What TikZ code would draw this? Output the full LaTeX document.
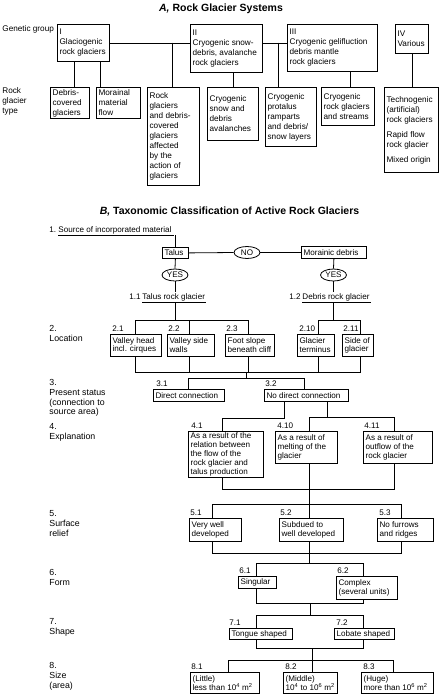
\documentclass[tikz,border=0pt]{standalone}
\usepackage{fontspec}
\setmainfont{Liberation Sans}
\usetikzlibrary{shapes.geometric}
\newcommand\mybox[7][fb]{%
  \node[frame, minimum width={#5-#3}, minimum height={#6-#4}] (#2) at (#3,#4) {};
  \node[txt,#1] (#2t) at ([xshift=2.2pt]#2.west) {#7};}
\begin{document}
\begin{tikzpicture}[x=1pt,y=-1pt,line width=0.8pt,
  fa/.style={font=\fontsize{8.2}{10}\selectfont},
  fb/.style={font=\fontsize{8.1}{8.9}\selectfont},
  fl/.style={font=\fontsize{8.8}{9.8}\selectfont},
  frame/.style={draw, line width=0.8pt, anchor=north west, inner sep=0pt},
  txt/.style={anchor=west, align=left, inner sep=0pt},
  lab/.style={anchor=south west, inner sep=0pt, fb},
  side/.style={anchor=north west, align=left, inner sep=0pt, fl},
  bw/.style={anchor=base west, inner sep=0pt, fb},
  oval/.style={ellipse, draw, line width=0.8pt, minimum width=26pt, minimum height=12pt, inner sep=0pt, fb},
  ttl/.style={inner sep=0pt, font=\fontsize{10.5}{12}\selectfont\bfseries}]
\useasboundingbox (0,0) rectangle (442,694);
% ---------------- Part A ----------------
\node[ttl] (ta) at (221,9) {\textit{A,} Rock Glacier Systems};
\node[side,fa] (gg) at (2,25) {Genetic group};
\node[side,fa] (rgt) at (2,87) {Rock\\glacier\\type};
\mybox[fa]{gI}{57}{24}{109}{61}{I\\Glaciogenic\\rock glaciers}
\mybox[fa]{gII}{190}{24}{262}{72}{II\\Cryogenic snow-\\debris, avalanche\\rock glaciers}
\mybox[fa]{gIII}{287}{24}{377}{71}{III\\Cryogenic gelifluction\\debris mantle\\rock glaciers}
\mybox[fa]{gIV}{395}{24}{428}{53}{IV\\Various}
\mybox[fa]{t1}{50}{87}{89}{118}{Debris-\\covered\\glaciers}
\mybox[fa]{t2}{96}{87}{140}{118}{Morainal\\material\\flow}
\mybox[fa]{t3}{147}{87}{199}{185}{Rock\\glaciers\\and debris-\\covered\\glaciers\\affected\\by the\\action of\\glaciers}
\mybox[fa]{t4}{207}{87}{258}{140}{Cryogenic\\snow and\\debris\\avalanches}
\mybox[fa]{t5}{265}{87}{316}{146}{Cryogenic\\protalus\\ramparts\\and debris/\\snow layers}
\mybox[fa]{t6}{321}{87}{374}{125}{Cryogenic\\rock glaciers\\and streams}
\mybox[fa]{t7}{384}{87}{438}{172}{Technogenic\\(artificial)\\rock glaciers\\[5pt]Rapid flow\\rock glacier\\[5pt]Mixed origin}
\draw (gI.east) -- (gII.west |- gI.east);
\draw (gII.east |- gI.east) -- (gIII.west |- gI.east);
\coordinate (ja1) at (172,42.5);
\coordinate (ja2) at (278,42.5);
\draw (ja1) -- (ja1 |- t3.north);
\draw (ja2) -- (ja2 |- t5.north);
\draw (gI.south -| 74,0) -- (t1.north -| 74,0);
\draw (gI.south -| 100,0) -- (t2.north -| 100,0);
\draw (gII.south -| 233,0) -- (t4.north -| 233,0);
\draw (gIII.south -| 350,0) -- (t6.north -| 350,0);
\draw (gIV.south -| 412,0) -- (t7.north -| 412,0);
% ---------------- Part B ----------------
\node[ttl] (tb) at (229.5,212) {\textit{B,} Taxonomic Classification of Active Rock Glaciers};
\node[bw] (s1n) at (49,232) {1.};
\node[bw] (s1) at (58,232) {Source of incorporated material};
\coordinate (u1a) at ([yshift=-3pt]s1.base west);
\coordinate (u1b) at ([yshift=-3pt,xshift=2pt]s1.base east);
\draw (u1a) -- (u1b);
\mybox{talus}{162}{247}{188}{258}{Talus}
\mybox{morn}{301}{246}{366}{258}{Morainic debris}
\node[oval] (no) at (247,252.5) {NO};
\node[oval] (yes1) at (175,275) {YES};
\node[oval] (yes2) at (333.5,275) {YES};
\draw (u1a -| talus.north) -- (talus.north);
\draw (talus.east) -- (no.west);
\draw (no.east) -- (morn.west |- no.east);
\draw (talus.south) -- (yes1.north);
\draw (morn.south) -- (yes2.north);
\node[bw] (n11) at (129,299) {1.1};
\node[bw] (s11) at (142,299) {Talus rock glacier};
\coordinate (u11a) at ([yshift=-3pt]s11.base west);
\coordinate (u11b) at ([yshift=-3pt,xshift=1pt]s11.base east);
\draw (u11a) -- (u11b);
\node[bw] (n12) at (289,299) {1.2};
\node[bw] (s12) at (302,299) {Debris rock glacier};
\coordinate (u12a) at ([yshift=-3pt]s12.base west);
\coordinate (u12b) at ([yshift=-3pt,xshift=1pt]s12.base east);
\draw (u12a) -- (u12b);
\draw (yes1.south) -- ([yshift=1pt]yes1.south |- s11.north);
\draw (yes2.south) -- ([yshift=1pt]yes2.south |- s12.north);
% level 2
\node[side] (l2) at (49,325) {2.\\Location};
\mybox{b21}{110}{334}{161}{356}{Valley head\\incl. cirques}
\mybox{b22}{167}{334}{214}{356}{Valley side\\walls}
\mybox{b23}{225}{334}{274}{356}{Foot slope\\beneath cliff}
\mybox{b210}{297}{334}{334}{356}{Glacier\\terminus}
\mybox{b211}{342}{334}{373}{356}{Side of\\glacier}
\node[lab] (n21) at (112,332) {2.1};
\node[lab] (n22) at (168,332) {2.2};
\node[lab] (n23) at (226,332) {2.3};
\node[lab] (n210) at (299,332) {2.10};
\node[lab] (n211) at (343,332) {2.11};
\coordinate (j2m) at (175,320);
\coordinate (j2l) at (135,320);
\coordinate (j2c) at (189,320);
\coordinate (j2r) at (248,320);
\draw (u11a -| j2m) -- (j2m);
\draw (j2l |- b21.north) -- (j2l) -- (j2r) -- (j2r |- b23.north);
\draw (j2c) -- (j2c |- b22.north);
\coordinate (k2m) at (333.5,320);
\coordinate (k2l) at (318,320);
\coordinate (k2r) at (360,320);
\draw (u12a -| k2m) -- (k2m);
\draw (k2l |- b210.north) -- (k2l) -- (k2r) -- (k2r |- b211.north);
% level 3
\node[side] (l3) at (49,379) {3.\\Present status\\(connection to\\source area)};
\mybox{b31}{153}{389}{224}{401}{Direct connection}
\mybox{b32}{264}{389}{348}{401}{No direct connection}
\node[lab] (n31) at (156,387) {3.1};
\node[lab] (n32) at (265,387) {3.2};
\coordinate (j3l) at (135,372);
\coordinate (j3r) at (360,372);
\draw (j3l |- b21.south) -- (j3l) -- (j3r) -- (j3r |- b211.south);
\coordinate (j3a) at (189,372);
\coordinate (j3b) at (248,372);
\coordinate (j3c) at (318,372);
\draw (j3a |- b22.south) -- (j3a);
\draw (j3b |- b23.south) -- (j3b);
\draw (j3c |- b210.south) -- (j3c);
\coordinate (j3m) at (246,378);
\coordinate (j3p) at (188,378);
\coordinate (j3q) at (304,378);
\draw (j3m |- j3l) -- (j3m);
\draw (j3p |- b31.north) -- (j3p) -- (j3q) -- (j3q |- b32.north);
% level 4
\node[side] (l4) at (49,423) {4.\\Explanation};
\mybox{b41}{188}{431}{263}{477}{As a result of the\\relation between\\the flow of the\\rock glacier and\\talus production}
\mybox{b410}{275}{431}{337}{463}{As a result of\\melting of the\\glacier}
\mybox{b411}{363}{431}{432}{463}{As a result of\\outflow of the\\rock glacier}
\node[lab] (n41) at (191,429) {4.1};
\node[lab] (n410) at (277,429) {4.10};
\node[lab] (n411) at (364,429) {4.11};
\coordinate (j4a) at (284,418);
\coordinate (j4b) at (222,418);
\draw (j4a |- b32.south) -- (j4a) -- (j4b) -- (j4b |- b41.north);
\coordinate (j4c) at (327,417);
\coordinate (j4l) at (309,417);
\coordinate (j4r) at (394,417);
\draw (j4c |- b32.south) -- (j4c);
\draw (j4l |- b410.north) -- (j4l) -- (j4r) -- (j4r |- b411.north);
% level 5
\node[side] (l5) at (49,510) {5.\\Surface\\relief};
\mybox{b51}{189}{518}{241}{541}{Very well\\developed}
\mybox{b52}{279}{518}{343}{541}{Subdued to\\well developed}
\mybox{b53}{377}{518}{433}{541}{No furrows\\and ridges}
\node[lab] (n51) at (190,516) {5.1};
\node[lab] (n52) at (280,516) {5.2};
\node[lab] (n53) at (379,516) {5.3};
\coordinate (j5a) at (222,489);
\coordinate (j5b) at (394,489);
\coordinate (j5m) at (309,489);
\draw (j5a |- b41.south) -- (j5a) -- (j5b) -- (j5b |- b411.south);
\draw (j5m |- b410.south) -- (j5m);
\coordinate (j5c) at (309,504);
\coordinate (j5l) at (212,504);
\coordinate (j5r) at (401,504);
\draw (j5m) -- (j5c);
\draw (j5l |- b51.north) -- (j5l) -- (j5r) -- (j5r |- b53.north);
\draw (j5c) -- (j5c |- b52.north);
% level 6
\node[side] (l6) at (49,569) {6.\\Form};
\mybox{b61}{238}{576}{276}{588}{Singular}
\mybox{b62}{336}{576}{397}{599}{Complex\\(several units)}
\node[lab] (n61) at (239,574) {6.1};
\node[lab] (n62) at (337,574) {6.2};
\coordinate (j6l) at (212,553);
\coordinate (j6r) at (401,553);
\draw (j6l |- b51.south) -- (j6l) -- (j6r) -- (j6r |- b53.south);
\coordinate (j6m) at (309,563);
\coordinate (j6a) at (256,563);
\coordinate (j6b) at (363,563);
\draw (j6m |- b52.south) -- (j6m);
\draw (j6a |- b61.north) -- (j6a) -- (j6b) -- (j6b |- b62.north);
% level 7
\node[side] (l7) at (49,618) {7.\\Shape};
\mybox{b71}{229}{628}{292}{639}{Tongue shaped}
\mybox{b72}{334}{628}{394}{639}{Lobate shaped}
\node[lab] (n71) at (229,626) {7.1}; 
\node[lab] (n72) at (336,626) {7.2};
\coordinate (j7a) at (256,603);
\coordinate (j7b) at (363,603);
\draw (j7a |- b61.south) -- (j7a) -- (j7b) -- (j7b |- b62.south);
\coordinate (j7m) at (310,603);
\coordinate (j7c) at (310,615);
\coordinate (j7l) at (256,615);
\coordinate (j7r) at (363,615);
\draw (j7m) -- (j7c);
\draw (j7l |- b71.north) -- (j7l) -- (j7r) -- (j7r |- b72.north);
% level 8
\node[side] (l8) at (49,662) {8.\\Size\\(area)};
\mybox{b81}{190}{672}{259}{692.5}{(Little)\\less than 10\textsuperscript{4} m\textsuperscript{2}}
\mybox{b82}{283}{672}{337}{692.5}{(Middle)\\10\textsuperscript{4} to 10\textsuperscript{6} m\textsuperscript{2}}
\mybox{b83}{361}{672}{433}{692.5}{(Huge)\\more than 10\textsuperscript{6} m\textsuperscript{2}}
\node[lab] (n81) at (191,670) {8.1};
\node[lab] (n82) at (285,670) {8.2};
\node[lab] (n83) at (363,670) {8.3};
\coordinate (j8a) at (256,648);
\coordinate (j8b) at (363,648);
\draw (j8a |- b71.south) -- (j8a) -- (j8b) -- (j8b |- b72.south);
\coordinate (j8m) at (312,648);
\coordinate (j8c) at (312,660);
\coordinate (j8l) at (228,660);
\coordinate (j8r) at (393,660);
\draw (j8m) -- (j8c);
\draw (j8l |- b81.north) -- (j8l) -- (j8r) -- (j8r |- b83.north);
\draw (j8c) -- (j8c |- b82.north);
\end{tikzpicture}
\end{document}
